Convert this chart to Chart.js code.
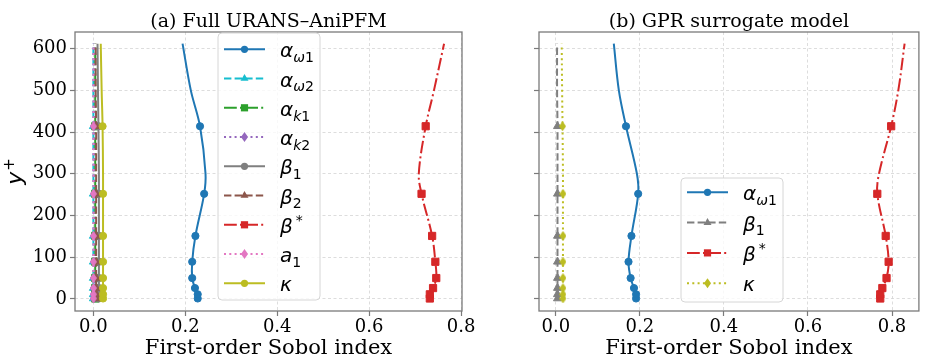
<!DOCTYPE html>
<html>
<head>
<meta charset="utf-8">
<script src="https://cdn.jsdelivr.net/npm/chart.js@4.4.1/dist/chart.umd.min.js"></script>
<style>
  body { margin: 0; background: #fff; }
  #wrap { position: relative; width: 925px; height: 360px; overflow: hidden; }
  canvas { position: absolute; top: 0; }
  #chartA { left: 0; }
  #chartB { left: 470px; }
</style>
</head>
<body>
<div id="wrap">
  <canvas id="chartA" width="490" height="360"></canvas>
  <canvas id="chartB" width="455" height="360"></canvas>
</div>
<script>
// wall-normal positions (y+) of the profile points; markers only on the probe points
const yPlus = [1, 11, 26, 50, 89, 151, 252, 300, 414, 500, 612];
const hasMarker = [1, 1, 1, 1, 1, 1, 1, 0, 1, 0, 0];

const xTicks = [0, 0.2, 0.4, 0.6, 0.8];
const yTicks = [0, 100, 200, 300, 400, 500, 600];

// (a) Full URANS-AniPFM
const fullAlphaW1 = [0.227, 0.227, 0.221, 0.215, 0.215, 0.222, 0.241, 0.244, 0.232, 0.212, 0.194];
const fullAlphaW2 = [0.000, 0.000, 0.000, 0.000, 0.000, 0.000, 0.000, 0.000, 0.000, 0.000, 0.000];
const fullAlphaK1 = [0.004, 0.004, 0.004, 0.004, 0.004, 0.004, 0.004, 0.004, 0.004, 0.004, 0.004];
const fullAlphaK2 = [0.001, 0.001, 0.001, 0.001, 0.001, 0.001, 0.001, 0.001, 0.001, 0.001, 0.001];
const fullBeta1 = [0.012, 0.012, 0.012, 0.012, 0.012, 0.012, 0.012, 0.012, 0.011, 0.010, 0.009];
const fullBeta2 = [0.006, 0.006, 0.006, 0.006, 0.006, 0.006, 0.006, 0.006, 0.006, 0.005, 0.005];
const fullBetaStar = [0.732, 0.732, 0.739, 0.746, 0.744, 0.737, 0.714, 0.708, 0.723, 0.741, 0.763];
const fullA1 = [0.000, 0.000, 0.000, 0.000, 0.000, 0.000, 0.000, 0.000, 0.000, 0.000, 0.000];
const fullKappa = [0.021, 0.021, 0.021, 0.021, 0.021, 0.021, 0.021, 0.021, 0.020, 0.018, 0.016];

// (b) GPR surrogate model
const gprAlphaW1 = [0.191, 0.191, 0.186, 0.178, 0.173, 0.180, 0.196, 0.193, 0.167, 0.150, 0.138];
const gprBeta1 = [0.004, 0.004, 0.004, 0.004, 0.004, 0.004, 0.004, 0.004, 0.004, 0.003, 0.003];
const gprBetaStar = [0.772, 0.772, 0.777, 0.787, 0.792, 0.785, 0.765, 0.769, 0.798, 0.815, 0.830];
const gprKappa = [0.017, 0.017, 0.017, 0.017, 0.017, 0.017, 0.017, 0.017, 0.016, 0.015, 0.014];

const DASHED = [7.4, 3.2];
const DASHDOT = [12.8, 3.2, 2, 3.2];
const DOTTED = [2, 3.3];

const serifTick = { family: 'DejaVu Serif', size: 18 };
const serifLabel = { family: 'DejaVu Serif', size: 21, lineHeight: 1.1 };

function thinDiamond(color) {
  const c = document.createElement('canvas');
  c.width = 7; c.height = 10;
  const g = c.getContext('2d');
  g.fillStyle = color;
  g.beginPath();
  g.moveTo(3.5, 0); g.lineTo(7, 5); g.lineTo(3.5, 10); g.lineTo(0, 5);
  g.closePath();
  g.fill();
  return c;
}

function markerOpts(kind, color) {
  if (kind === 'circle') return { pointStyle: 'circle', r: 3.6 };
  if (kind === 'triangle') return { pointStyle: 'triangle', r: 4.6 };
  if (kind === 'square') return { pointStyle: 'rect', r: 5.1 };
  return { pointStyle: thinDiamond(color), r: 3 };
}

const fullSeries = [
  { label: { base: 'α', sub: 'ω1' }, values: fullAlphaW1, color: '#1f77b4', dash: [], marker: 'circle' },
  { label: { base: 'α', sub: 'ω2' }, values: fullAlphaW2, color: '#17becf', dash: DASHED, marker: 'triangle' },
  { label: { base: 'α', sub: 'k1' }, values: fullAlphaK1, color: '#2ca02c', dash: DASHDOT, marker: 'square' },
  { label: { base: 'α', sub: 'k2' }, values: fullAlphaK2, color: '#9467bd', dash: DOTTED, marker: 'diamond' },
  { label: { base: 'β', sub: '1' }, values: fullBeta1, color: '#7f7f7f', dash: [], marker: 'circle' },
  { label: { base: 'β', sub: '2' }, values: fullBeta2, color: '#8c564b', dash: DASHED, marker: 'triangle' },
  { label: { base: 'β', sup: '*' }, values: fullBetaStar, color: '#d62728', dash: DASHDOT, marker: 'square' },
  { label: { base: 'a', sub: '1' }, values: fullA1, color: '#e377c2', dash: DOTTED, marker: 'diamond' },
  { label: { base: 'κ' }, values: fullKappa, color: '#bcbd22', dash: [], marker: 'circle' }
];

const gprSeries = [
  { label: { base: 'α', sub: 'ω1' }, values: gprAlphaW1, color: '#1f77b4', dash: [], marker: 'circle' },
  { label: { base: 'β', sub: '1' }, values: gprBeta1, color: '#7f7f7f', dash: DASHED, marker: 'triangle' },
  { label: { base: 'β', sup: '*' }, values: gprBetaStar, color: '#d62728', dash: DASHDOT, marker: 'square' },
  { label: { base: 'κ' }, values: gprKappa, color: '#bcbd22', dash: DOTTED, marker: 'diamond' }
];

function toDatasets(series) {
  return series.map((s, i) => {
    const m = markerOpts(s.marker, s.color);
    return {
      data: s.values.map((v, k) => ({ x: v, y: yPlus[k] })),
      showLine: true,
      tension: 0.35,
      borderColor: s.color,
      borderWidth: 2,
      borderDash: s.dash,
      pointStyle: m.pointStyle,
      pointRadius: ctx => hasMarker[ctx.dataIndex] ? m.r : 0,
      pointBackgroundColor: s.color,
      pointBorderColor: s.color,
      pointBorderWidth: 1,
      order: series.length - i   // later series on top, like the original
    };
  });
}

function drawMarker(ctx, kind, color, x, y) {
  ctx.fillStyle = color;
  ctx.beginPath();
  if (kind === 'circle') {
    ctx.arc(x, y, 3.6, 0, Math.PI * 2);
  } else if (kind === 'triangle') {
    ctx.moveTo(x, y - 4.6);
    ctx.lineTo(x + 4, y + 2.3);
    ctx.lineTo(x - 4, y + 2.3);
  } else if (kind === 'square') {
    ctx.rect(x - 3.6, y - 3.6, 7.2, 7.2);
  } else {
    ctx.moveTo(x, y - 5); ctx.lineTo(x + 3.5, y); ctx.lineTo(x, y + 5); ctx.lineTo(x - 3.5, y);
  }
  ctx.closePath();
  ctx.fill();
}

function drawMathLabel(ctx, lab, x, y) {
  const size = 20;
  const fam = '"DejaVu Sans"';
  ctx.fillStyle = '#000';
  ctx.textAlign = 'left';
  ctx.textBaseline = 'alphabetic';
  ctx.font = 'italic ' + size + 'px ' + fam;
  ctx.fillText(lab.base, x, y);
  let cx = x + ctx.measureText(lab.base).width;
  if (lab.sub) {
    for (const ch of lab.sub) {
      ctx.font = (/\d/.test(ch) ? '' : 'italic ') + (size * 0.7) + 'px ' + fam;
      ctx.fillText(ch, cx, y + 4.8);
      cx += ctx.measureText(ch).width;
    }
  }
  if (lab.sup) {
    ctx.font = (size * 0.7) + 'px ' + fam;
    ctx.fillText(lab.sup, cx + 3, y - 8);
  }
}

function roundRect(ctx, x, y, w, h, r) {
  ctx.beginPath();
  ctx.moveTo(x + r, y);
  ctx.arcTo(x + w, y, x + w, y + h, r);
  ctx.arcTo(x + w, y + h, x, y + h, r);
  ctx.arcTo(x, y + h, x, y, r);
  ctx.arcTo(x, y, x + w, y, r);
  ctx.closePath();
}

const panelDecor = {
  id: 'panelDecor',
  afterDraw(chart, args, opts) {
    const { ctx, chartArea: a } = chart;
    ctx.save();

    // axes frame (all four spines)
    ctx.strokeStyle = '#7a7a7a';
    ctx.lineWidth = 1.3;
    ctx.strokeRect(a.left, a.top, a.right - a.left, a.bottom - a.top);

    // panel title
    ctx.fillStyle = '#000';
    ctx.font = '19px "DejaVu Serif"';
    ctx.textAlign = 'center';
    ctx.textBaseline = 'alphabetic';
    ctx.fillText(opts.title, (a.left + a.right) / 2, 27);

    // legend box
    const L = opts.legend;
    roundRect(ctx, L.x, L.y, L.w, L.h, 4);
    ctx.fillStyle = 'rgba(255,255,255,0.8)';
    ctx.fill();
    ctx.strokeStyle = '#d6d6d6';
    ctx.lineWidth = 1;
    ctx.stroke();
    opts.series.forEach((s, i) => {
      const ry = L.row0 + i * L.step;
      const x0 = L.x + 6;
      ctx.save();
      ctx.strokeStyle = s.color;
      ctx.lineWidth = 2;
      ctx.setLineDash(s.dash);
      ctx.beginPath();
      ctx.moveTo(x0, ry);
      ctx.lineTo(x0 + 41, ry);
      ctx.stroke();
      ctx.restore();
      drawMarker(ctx, s.marker, s.color, x0 + 20.5, ry);
      drawMathLabel(ctx, s.label, L.x + 62, ry + 8);
    });

    // y-axis label y+
    if (opts.yLabel) {
      ctx.translate(22, 172);
      ctx.rotate(-Math.PI / 2);
      ctx.fillStyle = '#000';
      ctx.textAlign = 'left';
      ctx.font = 'italic 22px "DejaVu Sans"';
      const wy = ctx.measureText('y').width;
      ctx.font = '15px "DejaVu Sans"';
      const wp = ctx.measureText('+').width;
      const start = -(wy + wp) / 2;
      ctx.font = 'italic 22px "DejaVu Sans"';
      ctx.fillText('y', start, 0);
      ctx.font = '15px "DejaVu Sans"';
      ctx.fillText('+', start + wy + 1, -8);
    }
    ctx.restore();
  }
};

function makeScales(xMax, yWidth, showYLabels) {
  return {
    x: {
      type: 'linear',
      min: -0.04,
      max: xMax,
      afterBuildTicks: s => { s.ticks = xTicks.map(v => ({ value: v })); },
      afterFit: s => { s.height = 49; },
      ticks: { font: serifTick, color: '#000', padding: 1, maxRotation: 0, autoSkip: false,
               callback: v => v.toFixed(1) },
      grid: { color: '#d4d4d4', lineWidth: 0.8, tickLength: 5, tickColor: '#7a7a7a', tickWidth: 1.2 },
      border: { display: false, dash: [3, 2.5] },
      title: { display: true, text: 'First-order Sobol index', font: serifLabel, color: '#000', padding: 0 }
    },
    y: {
      type: 'linear',
      min: -29,
      max: 640,
      afterBuildTicks: s => { s.ticks = yTicks.map(v => ({ value: v })); },
      afterFit: s => { s.width = yWidth; },
      ticks: { display: showYLabels, font: serifTick, color: '#000', padding: 3, autoSkip: false },
      grid: { color: '#d4d4d4', lineWidth: 0.8, tickLength: 5, tickColor: '#7a7a7a', tickWidth: 1.2 },
      border: { display: false, dash: [3, 2.5] }
    }
  };
}

new Chart(document.getElementById('chartA'), {
  type: 'scatter',
  data: { datasets: toDatasets(fullSeries) },
  options: {
    responsive: false,
    animation: false,
    layout: { padding: { left: 0, right: 28, top: 32, bottom: 0 } },
    scales: makeScales(0.802, 75, true),
    plugins: {
      legend: { display: false },
      tooltip: { enabled: false },
      panelDecor: {
        title: '(a) Full URANS–AniPFM',
        yLabel: true,
        series: fullSeries,
        legend: { x: 218, y: 33, w: 102, h: 267, row0: 49.3, step: 29.25 }
      }
    }
  },
  plugins: [panelDecor]
});

new Chart(document.getElementById('chartB'), {
  type: 'scatter',
  data: { datasets: toDatasets(gprSeries) },
  options: {
    responsive: false,
    animation: false,
    layout: { padding: { left: 0, right: 2, top: 32, bottom: 0 } },
    scales: makeScales(0.864, 69, false),
    plugins: {
      legend: { display: false },
      tooltip: { enabled: false },
      panelDecor: {
        title: '(b) GPR surrogate model',
        yLabel: false,
        series: gprSeries,
        legend: { x: 211, y: 178, w: 102, h: 124, row0: 14.3 + 178, step: 30.3 }
      }
    }
  },
  plugins: [panelDecor]
});
</script>
</body>
</html>
